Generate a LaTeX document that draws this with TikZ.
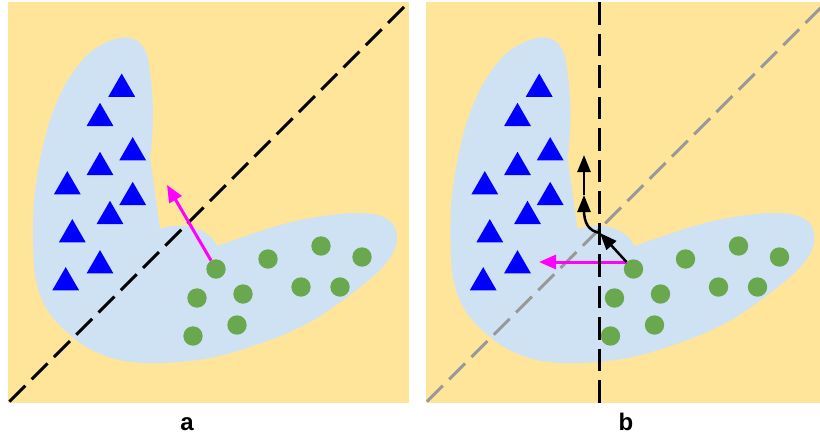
\documentclass[tikz,border=0pt]{standalone}
\usepackage{fontspec}
\setmainfont{Liberation Sans}
\usetikzlibrary{shapes.geometric,arrows.meta}
\definecolor{bgyellow}{HTML}{FFE599}
\definecolor{blobblue}{HTML}{CFE2F3}
\definecolor{triblue}{HTML}{0000FF}
\definecolor{dotgreen}{HTML}{6AA84F}
\definecolor{magline}{HTML}{FF00FF}
\definecolor{grayline}{HTML}{999999}
\newcommand\panelbody[1]{%
  \fill[blobblue]
    plot[smooth,tension=0.6] coordinates {(160,229) (170,226.5) (181,225.5) (193,227.5) (205,232.5) (213,239.5) (217,246)}
    -- plot[smooth,tension=0.55] coordinates {(217,246) (240,238) (270,228) (300,220) (330,215) (355,213) (378,215) (392,223) (397,237) (393,253) (378,272) (350,295) (317,318) (285,334) (250,347) (215,357) (180,362) (145,363) (115,359) (88,348) (68,333) (53,318) (42,300) (35,275) (33,240) (34,200) (40,160) (50,120) (65,85) (85,57) (105,43) (120,38) (131,38) (140,43) (147,55) (151,80) (153,110) (152,140) (150,157)}
    -- cycle;
}
\newcommand\panelmarks[1]{%
  \foreach \px/\py [count=\i] in {121.7/89, 100/118.3, 132.7/152.6, 100/167.3, 67.3/186.6, 132.7/197.3, 110/216.3, 72.3/234.6, 100/265.6, 65.7/282.6}
    \node[tri] (#1-t\i) at (\px,\py) {};
  \foreach \px/\py [count=\i] in {216/269, 268/259, 321/246, 362/257, 197/298, 243/294, 301/287, 340/287, 237/325, 193/336}
    \node[dot] (#1-c\i) at (\px,\py) {};
}
\begin{document}
\begin{tikzpicture}[x=1pt,y=-1pt,
  tri/.style={regular polygon,regular polygon sides=3,fill=triblue,minimum size=31pt,inner sep=0pt},
  dot/.style={circle,fill=dotgreen,minimum size=19.4pt,inner sep=0pt},
  dline/.style={line width=3pt,dash pattern=on 22.5pt off 9pt},
  magarrow/.style={line width=3pt,draw=magline,-{Triangle[length=17pt,width=14pt]}},
  blkarrow/.style={line width=2.5pt,draw=black,-{Triangle[length=17pt,width=13pt]}},
  lbl/.style={font=\bfseries\fontsize{24}{28}\selectfont,anchor=base,inner sep=0pt}]
\useasboundingbox (0,0) rectangle (820,437);
% panel a
\fill[bgyellow] (8,2) rectangle (409,403);
\panelbody{a}
\coordinate (aL1) at (404,7);
\coordinate (aL2) at (9,402);
\draw[dline,black] (aL1) -- (aL2);
\panelmarks{a}
\coordinate (atip) at (167,185);
\draw[magarrow] (a-c1) -- (atip);
\node[lbl] (la) at (187,430) {a};
% panel b
\fill[bgyellow] (426,2) rectangle (820,403);
\begin{scope}
  \clip (426,2) rectangle (820,403);
  \begin{scope}[xshift=417.5pt]
    \panelbody{b}
    \coordinate (bL1) at (404,7);
    \coordinate (bL2) at (9,402);
    \draw[dline,grayline] (bL1) -- (bL2);
    \panelmarks{b}
  \end{scope}
\end{scope}
\coordinate (bmx) at (539,0);
\draw[magarrow] (b-c1.135) -- (b-c1.135 -| bmx);
\coordinate (bV1) at (599.3,2);
\coordinate (bV2) at (599.3,403);
\draw[dline,black] (bV1) -- (bV2);
\coordinate (bx) at (600,233);
\coordinate (bmid) at (584,195);
\coordinate (btop) at (584,155);
\draw[blkarrow] (b-c1.135) -- (bx);
\draw[blkarrow] (bx) .. controls (588,231) and (584,222) .. (584,210) -- (bmid);
\draw[blkarrow] (bmid) -- (btop);
\node[lbl] (lb) at (626,430) {b};
\end{tikzpicture}
\end{document}
